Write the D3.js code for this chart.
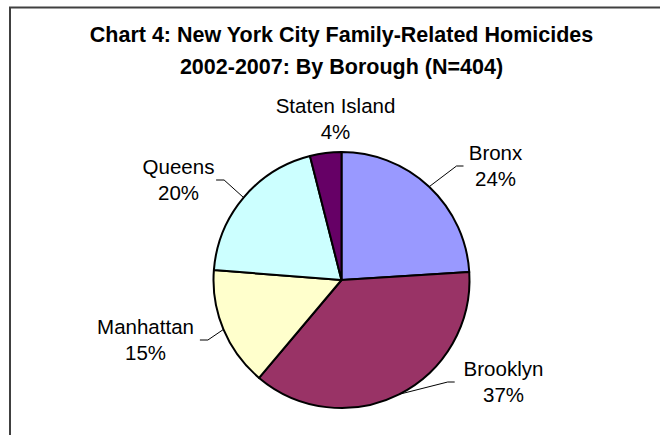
<!DOCTYPE html>
<html>
<head>
<meta charset="utf-8">
<script src="https://cdn.jsdelivr.net/npm/d3@7"></script>
<style>
  html, body { margin: 0; padding: 0; background: #fff; }
  svg { display: block; }
</style>
</head>
<body>
<div id="chart"></div>
<script>
// Data (counts, N = 404)
var boroughs = ["Bronx", "Brooklyn", "Manhattan", "Queens", "Staten Island"];
var counts = [97, 150, 61, 80, 16];
var percentLabels = ["24%", "37%", "15%", "20%", "4%"];
var sliceColors = ["#9999FF", "#993366", "#FFFFCC", "#CCFFFF", "#660066"];
var titleLines = ["Chart 4: New York City Family-Related Homicides", "2002-2007: By Borough (N=404)"];

// Layout: label block centres relative to pie centre, and which side the leader enters from
var labelLayout = [
  { dx: 154, dy: -114, leader: "left" },
  { dx: 162, dy: 102, leader: "left" },
  { dx: -196, dy: 60, leader: "right" },
  { dx: -163, dy: -100, leader: "right" },
  { dx: -6, dy: -161, leader: "none" }
];

var width = 660, height = 435;
var cx = 341.5, cy = 280, radius = 128;
var fontFamily = "Arial, 'Liberation Sans', Helvetica, sans-serif";

var svg = d3.select("#chart").append("svg")
  .attr("width", width)
  .attr("height", height)
  .attr("font-family", fontFamily);

// chart area frame (right and bottom edges fall outside the picture)
svg.append("rect")
  .attr("x", 10).attr("y", 7.5)
  .attr("width", 800).attr("height", 600)
  .attr("fill", "none")
  .attr("stroke", "#404040")
  .attr("stroke-width", 2);

// title, centred over the pie
svg.append("text")
  .attr("text-anchor", "middle")
  .attr("font-weight", "bold")
  .attr("font-size", "21.5px")
  .attr("fill", "#000")
  .selectAll("tspan")
  .data(titleLines)
  .enter().append("tspan")
  .attr("x", cx)
  .attr("y", (d, i) => 41.5 + i * 32.5)
  .text(d => d);

var data = boroughs.map((b, i) => ({ name: b, value: counts[i], pct: percentLabels[i], color: sliceColors[i], layout: labelLayout[i] }));

var pie = d3.pie().sort(null).value(d => d.value);
var arc = d3.arc().innerRadius(0).outerRadius(radius);
var arcs = pie(data);

var g = svg.append("g").attr("transform", "translate(" + cx + "," + cy + ")");

g.selectAll("path.slice")
  .data(arcs)
  .enter().append("path")
  .attr("class", "slice")
  .attr("d", arc)
  .attr("fill", d => d.data.color)
  .attr("stroke", "#000")
  .attr("stroke-width", 2)
  .attr("stroke-linejoin", "round");

// leader lines: from the rim at the slice's mid-angle to the label block
g.selectAll("polyline.leader")
  .data(arcs.filter(d => d.data.layout.leader !== "none"))
  .enter().append("polyline")
  .attr("class", "leader")
  .attr("fill", "none")
  .attr("stroke", "#000")
  .attr("stroke-width", 1)
  .attr("points", d => {
    var mid = (d.startAngle + d.endAngle) / 2;
    var x0 = Math.sin(mid) * radius, y0 = -Math.cos(mid) * radius;
    var lay = d.data.layout;
    var half = Math.max(d.data.name.length * 5.6, 22);
    var ex = lay.leader === "left" ? lay.dx - half - 4 : lay.dx + half + 4;
    var kx = lay.leader === "left" ? ex - 7 : ex + 8;
    return [[x0, y0], [kx, lay.dy], [ex, lay.dy]].map(p => p.join(",")).join(" ");
  });

// labels
var labels = g.selectAll("text.label")
  .data(arcs)
  .enter().append("text")
  .attr("class", "label")
  .attr("text-anchor", "middle")
  .attr("font-size", "20.5px")
  .attr("fill", "#000");

labels.append("tspan")
  .attr("x", d => d.data.layout.dx)
  .attr("y", d => d.data.layout.dy - 6)
  .text(d => d.data.name);

labels.append("tspan")
  .attr("x", d => d.data.layout.dx)
  .attr("y", d => d.data.layout.dy + 20)
  .text(d => d.data.pct);
</script>
</body>
</html>
